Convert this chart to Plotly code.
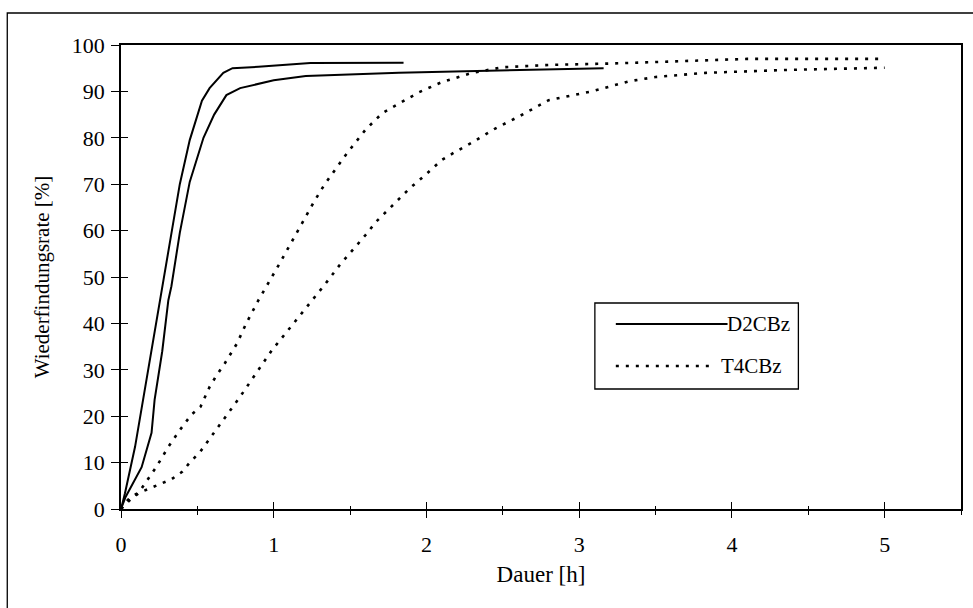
import plotly.graph_objects as go

# D2CBz, two replicate runs (solid)
d2_run1_x = [0, 0.026, 0.092, 0.144, 0.2, 0.255, 0.275, 0.365, 0.385, 0.45, 0.53, 0.58, 0.67, 0.73, 0.9, 1.24, 1.5, 1.85]
d2_run1_y = [0, 3.4, 13.4, 23.5, 34, 45, 48, 66, 70, 79.5, 88, 90.7, 94, 95, 95.3, 96.1, 96.2, 96.2]
d2_run2_x = [0, 0.03, 0.135, 0.2, 0.22, 0.27, 0.31, 0.33, 0.385, 0.45, 0.54, 0.61, 0.69, 0.78, 1.0, 1.21, 1.82, 2.4, 3.16]
d2_run2_y = [0, 2.6, 9, 16.4, 23.5, 34, 45, 48, 59.5, 70.5, 80, 85, 89.2, 90.7, 92.4, 93.3, 94, 94.5, 95]

# T4CBz, two replicate runs (dotted)
t4_run1_x = [0, 0.046, 0.12, 0.23, 0.31, 0.385, 0.46, 0.52, 0.58, 0.62, 0.68, 0.76, 0.82, 0.9, 1.04, 1.17,
             1.26, 1.33, 1.42, 1.48, 1.6, 1.71, 1.8, 1.95, 2.1, 2.3, 2.5, 2.8, 3.2, 3.5, 4.1, 5.0]
t4_run1_y = [0, 2, 3.7, 9, 13.4, 17, 20.3, 22, 26.3, 28.5, 31.4, 35.7, 40, 45, 53, 60.7,
             66, 69.8, 74.1, 76.7, 81.7, 85.3, 87, 89.8, 92, 94, 95.2, 95.7, 96, 96.3, 97, 97]
t4_run2_x = [0, 0.06, 0.12, 0.24, 0.33, 0.4, 0.45, 0.52, 0.6, 0.67, 0.78, 0.89, 0.99, 1.13, 1.26, 1.34, 1.43,
             1.5, 1.6, 1.67, 1.78, 1.89, 2.0, 2.1, 2.18, 2.3, 2.45, 2.6, 2.8, 3.08, 3.33, 3.5, 3.83, 4.33, 5.0]
t4_run2_y = [0, 2, 3.5, 5.2, 6.4, 8, 10, 12.4, 16, 19.2, 24.2, 29.5, 34.3, 40, 45.2, 48.6, 52.5,
             55.1, 59, 61.9, 65.5, 69.1, 72.2, 75.2, 76.8, 79, 82, 84.5, 88.1, 90, 92.2, 93.1, 94, 94.6, 95.1]

legend_labels = ["D2CBz", "T4CBz"]
x_title = "Dauer [h]"
y_title = "Wiederfindungsrate [%]"

FONT = "Liberation Serif, Times New Roman, serif"
solid = dict(color="black", width=2)
dotted = dict(color="black", width=2.6, dash="3px,7px")

fig = go.Figure()
fig.add_trace(go.Scatter(x=d2_run1_x, y=d2_run1_y, mode="lines", line=solid, showlegend=False))
fig.add_trace(go.Scatter(x=d2_run2_x, y=d2_run2_y, mode="lines", line=solid, showlegend=False))
fig.add_trace(go.Scatter(x=t4_run1_x, y=t4_run1_y, mode="lines", line=dotted, showlegend=False))
fig.add_trace(go.Scatter(x=t4_run2_x, y=t4_run2_y, mode="lines", line=dotted, showlegend=False))
# invisible trace so the overlay axes (inner tick halves) are drawn
fig.add_trace(go.Scatter(x=[None], y=[None], xaxis="x2", yaxis="y2", showlegend=False, hoverinfo="skip"))

axis_common = dict(showgrid=False, zeroline=False, color="black")

fig.update_layout(
    width=973, height=608,
    margin=dict(l=121, r=10, t=45, b=99),
    paper_bgcolor="white", plot_bgcolor="white",
    font=dict(family=FONT, size=22, color="black"),
    xaxis=dict(range=[0, 5.5], tick0=0, dtick=1, ticks="outside", ticklen=7, tickwidth=1.3,
               minor=dict(dtick=0.5, ticks="outside", ticklen=4, tickwidth=1),
               showline=True, linewidth=1.6, linecolor="black", mirror=True,
               ticklabelstandoff=8, tickfont=dict(size=22),
               title=dict(text=x_title, standoff=10, font=dict(size=23)),
               **axis_common),
    yaxis=dict(range=[0, 100], tick0=0, dtick=10, ticks="outside", ticklen=8, tickwidth=1.3,
               showline=True, linewidth=1.6, linecolor="black", mirror=True,
               ticklabelstandoff=2, tickfont=dict(size=22),
               title=dict(text=y_title, standoff=16, font=dict(size=21)),
               **axis_common),
    xaxis2=dict(range=[0, 5.5], overlaying="x", anchor="y", side="bottom", tick0=0, dtick=1,
                ticks="inside", ticklen=7, tickwidth=1.3,
                minor=dict(dtick=0.5, ticks="inside", ticklen=3, tickwidth=1),
                showticklabels=False, showline=False, **axis_common),
    yaxis2=dict(range=[0, 100], overlaying="y", anchor="x", side="left", tick0=0, dtick=10,
                ticks="inside", ticklen=7, tickwidth=1.3,
                showticklabels=False, showline=False, **axis_common),
)

# helper: pixel -> paper coordinates (plot area 121..963 x, 45..509 y)
def px(xp):
    return (xp - 121) / 842.0

def py(yp):
    return (509 - yp) / 464.0

shapes = [
    # outer frame of the figure (cropped at right/bottom)
    dict(type="rect", xref="paper", yref="paper", x0=px(7), x1=px(1060), y0=py(700), y1=py(13),
         line=dict(color="black", width=1.3), layer="below"),
    # legend box
    dict(type="rect", xref="paper", yref="paper", x0=px(596), x1=px(800), y0=py(389), y1=py(303),
         line=dict(color="black", width=1.3), fillcolor="white"),
    dict(type="line", xref="paper", yref="paper", x0=px(617), x1=px(729), y0=py(324), y1=py(324),
         line=solid),
    dict(type="line", xref="paper", yref="paper", x0=px(617), x1=px(712), y0=py(366), y1=py(366),
         line=dotted),
]
annotations = [
    dict(xref="paper", yref="paper", x=px(794), y=py(324), text=legend_labels[0], showarrow=False,
         xanchor="right", yanchor="middle", font=dict(family=FONT, size=21, color="black")),
    dict(xref="paper", yref="paper", x=px(786), y=py(366), text=legend_labels[1], showarrow=False,
         xanchor="right", yanchor="middle", font=dict(family=FONT, size=21, color="black")),
]
fig.update_layout(shapes=shapes, annotations=annotations)

fig.write_html("out.html")
